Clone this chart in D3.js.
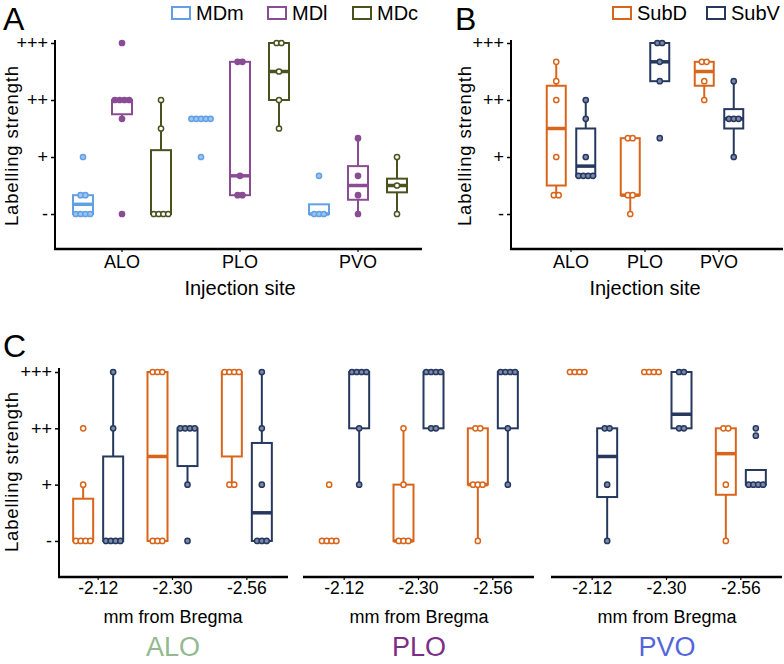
<!DOCTYPE html>
<html><head><meta charset="utf-8">
<script src="https://cdn.jsdelivr.net/npm/d3@7"></script>
<style>body{margin:0;background:#fff} svg{font-family:"Liberation Sans",Arial,sans-serif}</style>
</head><body><svg id="c" width="784" height="664"></svg>
<script>
// ---------- DATA ----------
const levels = ["-", "+", "++", "+++"];
const levelValues = [0, 1, 2, 3];

// Panel A
const aSites = ["ALO", "PLO", "PVO"];
const aSeries = ["MDm", "MDl", "MDc"];
// per site: [whiskerLow, q1, median, q3, whiskerHigh]
const aBoxMDm = [[0, 0, 0.17, 0.33, 0.33], [1.67, 1.67, 1.67, 1.67, 1.67], [0, 0, 0, 0.17, 0.17]];
const aBoxMDl = [[1.67, 1.75, 2, 2, 2], [0.33, 0.33, 0.67, 2.67, 2.67], [0, 0.25, 0.5, 0.84, 1.33]];
const aBoxMDc = [[0, 0, 0, 1.12, 2], [1.5, 2, 2.5, 3, 3], [0, 0.38, 0.5, 0.62, 1]];
const aPtsMDm = [[0, 0, 0, 0, 0.33, 0.33, 1], [1.67, 1.67, 1.67, 1.67, 1.67, 1], [0, 0, 0, 0.67]];
const aPtsMDl = [[2, 2, 2, 2, 1.67, 3, 0], [2.67, 2.67, 0.67, 0.33, 0.33], [1.33, 0.67, 0.33, 0]];
const aPtsMDc = [[0, 0, 0, 0, 1.5, 2], [3, 3, 2.5, 2, 1.5], [1, 0.5, 0]];

// Panel B
const bSites = ["ALO", "PLO", "PVO"];
const bSeries = ["SubD", "SubV"];
const bBoxSubD = [[0.33, 0.5, 1.5, 2.25, 2.67], [0, 0.33, 0.33, 1.33, 1.33], [2, 2.25, 2.5, 2.67, 2.67]];
const bBoxSubV = [[0.67, 0.67, 0.84, 1.5, 2], [2.33, 2.33, 2.67, 3, 3], [1, 1.5, 1.67, 1.84, 2.33]];
const bPtsSubD = [[2.67, 2.33, 2, 1, 0.33, 0.33], [1.33, 1.33, 0.33, 0.33, 0], [2.67, 2.67, 2.33, 2]];
const bPtsSubV = [[2, 1.67, 1, 0.67, 0.67, 0.67, 0.67], [3, 3, 2.67, 2.33, 1.33], [2.33, 1.67, 1.67, 1.67, 1]];

// Panel C
const cBregma = ["-2.12", "-2.30", "-2.56"];
const cGroups = ["ALO", "PLO", "PVO"];
const cBoxSubD_ALO = [[0, 0, 0, 0.75, 1], [0, 0, 1.5, 3, 3], [1, 1.5, 3, 3, 3]];
const cBoxSubV_ALO = [[0, 0, 0, 1.5, 3], [1, 1.33, 2, 2, 2], [0, 0, 0.5, 1.74, 3]];
const cPtsSubD_ALO = [[0, 0, 0, 0, 1, 2], [3, 3, 3, 0, 0, 0], [3, 3, 3, 3, 1, 1]];
const cPtsSubV_ALO = [[3, 2, 0, 0, 0, 0], [2, 2, 2, 2, 1, 0], [3, 2, 1, 0, 0, 0]];
const cBoxSubD_PLO = [[0, 0, 0, 0, 0], [0, 0, 0, 1, 2], [0, 1, 1, 2, 2]];
const cBoxSubV_PLO = [[1, 2, 3, 3, 3], [2, 2, 3, 3, 3], [1, 2, 3, 3, 3]];
const cPtsSubD_PLO = [[0, 0, 0, 0, 1], [2, 1, 0, 0, 0], [2, 2, 1, 1, 1, 0]];
const cPtsSubV_PLO = [[3, 3, 3, 3, 2, 1], [3, 3, 3, 3, 2, 2], [3, 3, 3, 3, 2, 1]];
const cBoxSubD_PVO = [[3, 3, 3, 3, 3], [3, 3, 3, 3, 3], [0, 0.82, 1.55, 2, 2]];
const cBoxSubV_PVO = [[0, 0.78, 1.5, 2, 2], [2, 2, 2.25, 3, 3], [1, 1, 1, 1.26, 1.26]];
const cPtsSubD_PVO = [[3, 3, 3, 3], [3, 3, 3, 3], [2, 2, 1, 0]];
const cPtsSubV_PVO = [[2, 2, 1, 0], [3, 3, 2, 2], [2, 1.87, 1, 1, 1, 1]];

// ---------- STYLES ----------
const style = {
  MDm: {stroke: "#62a0e6", fill: "#9cc4f0"},
  MDl: {stroke: "#8a4c95", fill: "#8a4c95"},
  MDc: {stroke: "#4a5220", fill: "#ffffff"},
  SubD: {stroke: "#d9651b", fill: "#ffffff"},
  SubV: {stroke: "#26385f", fill: "#7d8aa8"}
};
const groupColor = {ALO: "#93b98f", PLO: "#7c2e86", PVO: "#5566dd"};

const svg = d3.select("#c");

function drawGroup(g, cx, y, box, pts, st, bw) {
  const [lo, q1, med, q3, hi] = box;
  const sw = 2;
  if (hi > q3) g.append("line").attr("x1", cx).attr("x2", cx).attr("y1", y(q3)).attr("y2", y(hi)).attr("stroke", st.stroke).attr("stroke-width", sw);
  if (lo < q1) g.append("line").attr("x1", cx).attr("x2", cx).attr("y1", y(q1)).attr("y2", y(lo)).attr("stroke", st.stroke).attr("stroke-width", sw);
  g.append("rect").attr("x", cx - bw / 2).attr("y", y(q3)).attr("width", bw).attr("height", Math.max(0, y(q1) - y(q3)))
    .attr("fill", "none").attr("stroke", st.stroke).attr("stroke-width", sw);
  g.append("line").attr("x1", cx - bw / 2).attr("x2", cx + bw / 2).attr("y1", y(med)).attr("y2", y(med))
    .attr("stroke", st.stroke).attr("stroke-width", 3.5);
  const counts = d3.rollup(pts, v => v.length, d => d);
  const seen = new Map();
  pts.forEach(v => {
    const n = counts.get(v); const i = seen.get(v) || 0; seen.set(v, i + 1);
    g.append("circle").attr("cx", cx + (i - (n - 1) / 2) * 4.8).attr("cy", y(v)).attr("r", 2.6)
      .attr("fill", st.fill).attr("stroke", st.stroke).attr("stroke-width", 1.5);
  });
}

function yAxis(g, y, x0, top, bottom) {
  g.append("line").attr("x1", x0).attr("x2", x0).attr("y1", top).attr("y2", bottom).attr("stroke", "#000").attr("stroke-width", 2);
  const ax = d3.axisLeft(y).tickValues(levelValues).tickFormat(i => levels[i]).tickSize(4).tickPadding(3);
  const a = g.append("g").attr("transform", `translate(${x0},0)`).call(ax);
  a.select(".domain").remove();
  a.attr("font-size", 18).attr("font-family", "Liberation Sans, Arial, sans-serif");
  a.selectAll("text").attr("font-size", 18).attr("fill", "#000");
  a.selectAll("line").attr("stroke", "#000").attr("stroke-width", 1.5);
}

function xAxis(g, x, y0, left, right, fs, pad) {
  g.append("line").attr("x1", left).attr("x2", right).attr("y1", y0).attr("y2", y0).attr("stroke", "#000").attr("stroke-width", 2.5);
  const a = g.append("g").attr("transform", `translate(0,${y0})`).call(d3.axisBottom(x).tickSize(3).tickPadding(pad));
  a.select(".domain").remove();
  a.attr("font-size", fs).attr("font-family", "Liberation Sans, Arial, sans-serif");
  a.selectAll("text").attr("font-size", fs).attr("fill", "#000");
  a.selectAll("line").attr("stroke", "#000").attr("stroke-width", 1.2);
}

function ylabel(x, cy) {
  svg.append("text").attr("transform", `translate(${x},${cy}) rotate(-90)`).attr("text-anchor", "middle")
    .attr("font-size", 18.5).attr("textLength", 160).attr("lengthAdjust", "spacing").text("Labelling strength");
}

function legend(items, xs, y) {
  items.forEach((s, i) => {
    svg.append("rect").attr("x", xs[i]).attr("y", y).attr("width", 18).attr("height", 12)
      .attr("fill", "none").attr("stroke", style[s].stroke).attr("stroke-width", 2);
    svg.append("text").attr("x", xs[i] + 24).attr("y", y + 13).attr("font-size", 20).text(s);
  });
}

// ---------- PANEL A ----------
{
  const g = svg.append("g");
  const y = d3.scaleLinear().domain([-0.614, 3]).range([249, 43]);
  const x = d3.scaleBand().domain(aSites).range([63, 417]);
  const xs = d3.scaleBand().domain(aSeries).range([-58.5, 58.5]);
  const boxes = {MDm: aBoxMDm, MDl: aBoxMDl, MDc: aBoxMDc};
  const pts = {MDm: aPtsMDm, MDl: aPtsMDl, MDc: aPtsMDc};
  aSeries.forEach(s => aSites.forEach((site, i) => {
    drawGroup(g, x(site) + x.bandwidth() / 2 + xs(s) + xs.bandwidth() / 2, y, boxes[s][i], pts[s][i], style[s], 20);
  }));
  yAxis(g, y, 55, 40, 250);
  xAxis(g, x, 249, 54, 422, 18, 3);
  svg.append("text").attr("x", 240).attr("y", 295).attr("text-anchor", "middle").attr("font-size", 20).text("Injection site");
  ylabel(18, 146);
  svg.append("text").attr("x", 3).attr("y", 30).attr("font-size", 32).text("A");
  legend(aSeries, [172, 268, 353], 7);
}

// ---------- PANEL B ----------
{
  const g = svg.append("g");
  const y = d3.scaleLinear().domain([-0.614, 3]).range([249, 43]);
  const x = d3.scaleBand().domain(bSites).range([534, 756]);
  const xs = d3.scaleBand().domain(bSeries).range([-29.5, 29.5]);
  const boxes = {SubD: bBoxSubD, SubV: bBoxSubV};
  const pts = {SubD: bPtsSubD, SubV: bPtsSubV};
  bSeries.forEach(s => bSites.forEach((site, i) => {
    drawGroup(g, x(site) + x.bandwidth() / 2 + xs(s) + xs.bandwidth() / 2, y, boxes[s][i], pts[s][i], style[s], 19);
  }));
  yAxis(g, y, 511, 40, 250);
  xAxis(g, x, 249, 510, 783, 18, 3);
  svg.append("text").attr("x", 645).attr("y", 295).attr("text-anchor", "middle").attr("font-size", 20).text("Injection site");
  ylabel(471, 146);
  svg.append("text").attr("x", 455).attr("y", 30).attr("font-size", 32).text("B");
  legend(bSeries, [613, 707], 7);
}

// ---------- PANEL C ----------
{
  const y = d3.scaleLinear().domain([-0.64, 3]).range([577, 372]);
  const lefts = [59, 305, 553];
  const boxD = [cBoxSubD_ALO, cBoxSubD_PLO, cBoxSubD_PVO];
  const boxV = [cBoxSubV_ALO, cBoxSubV_PLO, cBoxSubV_PVO];
  const ptsD = [cPtsSubD_ALO, cPtsSubD_PLO, cPtsSubD_PVO];
  const ptsV = [cPtsSubV_ALO, cPtsSubV_PLO, cPtsSubV_PVO];
  cGroups.forEach((grp, k) => {
    const g = svg.append("g");
    const L = lefts[k];
    const x = d3.scaleBand().domain(cBregma).range([L + 2, L + 225]);
    const xs = d3.scaleBand().domain(bSeries).range([-30, 30]);
    cBregma.forEach((b, i) => {
      const c = x(b) + x.bandwidth() / 2;
      drawGroup(g, c + xs("SubD") + xs.bandwidth() / 2, y, boxD[k][i], ptsD[k][i], style.SubD, 20);
      drawGroup(g, c + xs("SubV") + xs.bandwidth() / 2, y, boxV[k][i], ptsV[k][i], style.SubV, 20);
    });
    if (k === 0) yAxis(g, y, L, 368, 578);
    xAxis(g, x, 577, k === 0 ? L - 1 : L - 2, L + 229, 17.5, 2);
    svg.append("text").attr("x", L + 114).attr("y", 623).attr("text-anchor", "middle").attr("font-size", 18).text("mm from Bregma");
    svg.append("text").attr("x", L + 114).attr("y", 656).attr("text-anchor", "middle").attr("font-size", 27)
      .attr("fill", groupColor[grp]).text(grp);
  });
  ylabel(18, 472);
  svg.append("text").attr("x", 3).attr("y", 357).attr("font-size", 32).text("C");
}
</script></body></html>
